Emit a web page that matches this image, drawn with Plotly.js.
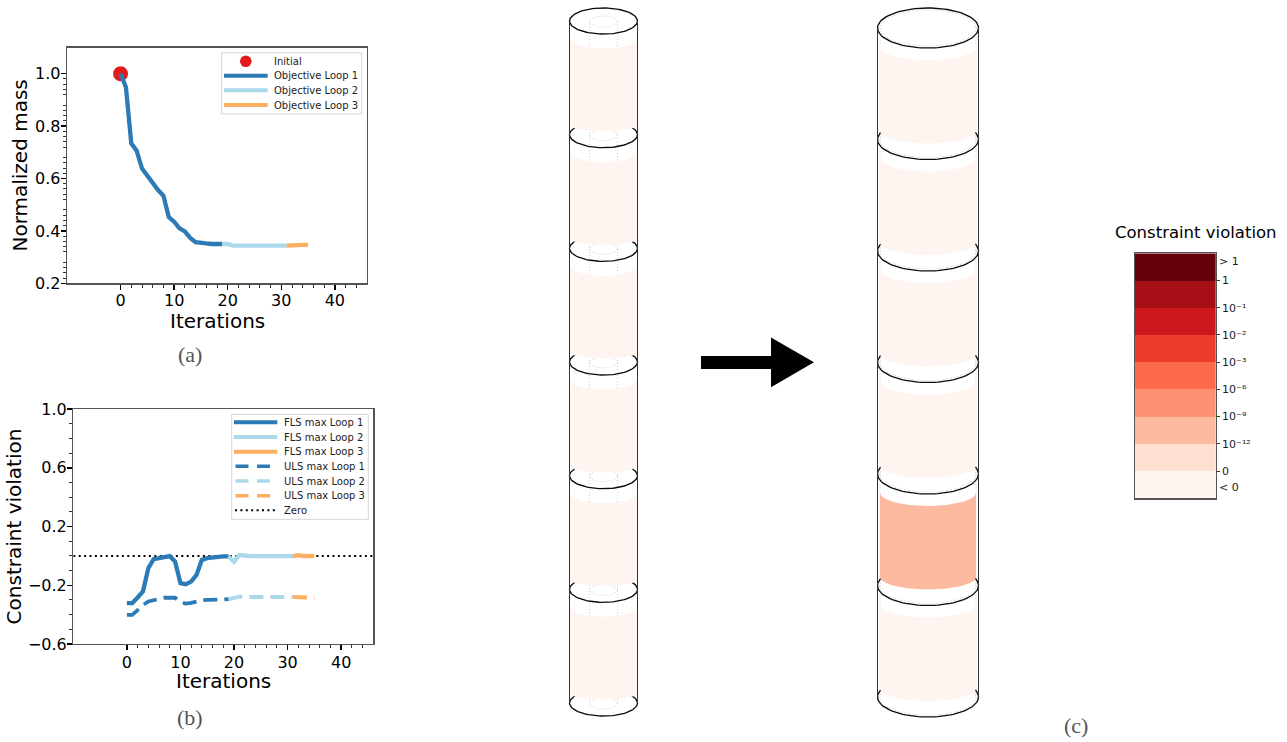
<!DOCTYPE html>
<html><head><meta charset="utf-8">
<script src="https://cdn.plot.ly/plotly-3.0.1.min.js"></script>
<style>html,body{margin:0;padding:0;background:#fff}#c{width:1287px;height:742px}</style>
</head><body><div id="c"></div><script>
// ---- panel (a) ----
var massLoop1X = [0,1,2,3,4,5,6,7,8,9,10,11,12,13,14,15,16,17,18,19];
var massLoop1Y = [1.0,0.948,0.734,0.706,0.638,0.61,0.58,0.556,0.534,0.453,0.435,0.41,0.398,0.373,0.357,0.353,0.352,0.35,0.35,0.35];
var massLoop2X = [19,20,21,22,23,24,25,26,27,28,29,30,31];
var massLoop2Y = [0.35,0.35,0.344,0.344,0.344,0.344,0.344,0.344,0.344,0.344,0.344,0.344,0.344];
var massLoop3X = [31,32,33,34,35];
var massLoop3Y = [0.344,0.346,0.347,0.347,0.347];
// ---- panel (b) ----
var flsLoop1X = [0,1,2,3,4,5,6,7,8,9,10,11,12,13,14,15,16,17,18,19];
var flsLoop1Y = [-0.322,-0.322,-0.283,-0.243,-0.084,-0.023,-0.016,-0.01,-0.002,-0.039,-0.186,-0.193,-0.175,-0.13,-0.027,-0.016,-0.01,-0.005,-0.004,-0.004];
var flsLoop2X = [19,20,21,22,23,24,25,26,27,28,29,30,31];
var flsLoop2Y = [-0.004,-0.04,0.006,-0.001,-0.002,-0.002,-0.002,-0.002,-0.002,-0.002,-0.002,-0.002,-0.002];
var flsLoop3X = [31,32,33,34,35];
var flsLoop3Y = [-0.002,0.005,-0.001,-0.002,-0.002];
var ulsLoop1X = [0,1,2,3,4,5,6,7,8,9,10,11,12,13,14,15,16,17,18,19];
var ulsLoop1Y = [-0.402,-0.402,-0.37,-0.335,-0.31,-0.3,-0.29,-0.285,-0.285,-0.285,-0.315,-0.325,-0.32,-0.31,-0.302,-0.3,-0.3,-0.298,-0.296,-0.295];
var ulsLoop2X = [19,20,21,22,23,24,25,26,27,28,29,30,31];
var ulsLoop2Y = [-0.295,-0.285,-0.278,-0.28,-0.28,-0.28,-0.28,-0.28,-0.28,-0.28,-0.28,-0.28,-0.28];
var ulsLoop3X = [31,32,33,34,35];
var ulsLoop3Y = [-0.28,-0.28,-0.282,-0.284,-0.285];
var zeroX = [-10,46];
var zeroY = [0,0];
var iterTicks = [0,10,20,30,40];
var iterMinor = [2,4,6,8,12,14,16,18,22,24,26,28,32,34,36,38,42,44];
var massMinor = [0.22,0.24,0.26,0.28,0.32,0.34,0.36,0.38,0.42,0.44,0.46,0.48,0.52,0.54,0.56,0.58,0.62,0.64,0.66,0.68,0.72,0.74,0.76,0.78,0.82,0.84,0.86,0.88,0.92,0.94,0.96,0.98];
var violMinor = [-0.5,-0.4,-0.3,-0.1,0,0.1,0.3,0.4,0.5,0.7,0.8,0.9];
// ---- panel (c) ----
var reds = ['#fff5f0','#fee0d2','#fcbba1','#fc9272','#fb6a4a','#ef3b2c','#cb181d','#a50f15','#67000d'];
var leftSegments  = [0,0,0,0,0,0];
var rightSegments = [0,0,0,0,2,0];
var scaleLevels = [[0],[1],[2],[3],[4],[5],[6],[7],[8]];
var scaleCenters = [0.5,1.5,2.5,3.5,4.5,5.5,6.5,7.5,8.5];
var scaleTicks = [1,2,3,4,5,6,7,8];
var scaleLabels = ['0','10\u207B\u00B9\u00B2','10\u207B\u2079','10\u207B\u2076','10\u207B\u00B3','10\u207B\u00B2','10\u207B\u00B9','1'];
var cBlue='#2c7bb6', cLight='#abd9e9', cOrange='#fdae61';

function line(x,y,color,name,xa,ya,dash){
  return {type:'scatter',mode:'lines',x:x,y:y,name:name,xaxis:xa,yaxis:ya,hoverinfo:'skip',showlegend:false,
    line:{color:color,width:dash?3.8:4.3,dash:dash||'solid',shape:'linear'}};
}
var traces = [
  line(massLoop1X,massLoop1Y,cBlue,'Objective Loop 1','x','y'),
  line(massLoop2X,massLoop2Y,cLight,'Objective Loop 2','x','y'),
  line(massLoop3X,massLoop3Y,cOrange,'Objective Loop 3','x','y')
];
traces.unshift({type:'scatter',mode:'markers',x:[0],y:[1],name:'Initial',xaxis:'x',yaxis:'y',showlegend:false,hoverinfo:'skip',
  marker:{color:'#e31a1c',size:15}});
var z0 = line(zeroX,zeroY,'#000','Zero','x2','y2','2px,3.4px'); z0.line.width=2;
traces.push(z0,
  line(flsLoop1X,flsLoop1Y,cBlue,'FLS max Loop 1','x2','y2'),
  line(flsLoop2X,flsLoop2Y,cLight,'FLS max Loop 2','x2','y2'),
  line(flsLoop3X,flsLoop3Y,cOrange,'FLS max Loop 3','x2','y2'),
  line(ulsLoop1X,ulsLoop1Y,cBlue,'ULS max Loop 1','x2','y2','14px,7px'),
  line(ulsLoop2X,ulsLoop2Y,cLight,'ULS max Loop 2','x2','y2','14px,7px'),
  line(ulsLoop3X,ulsLoop3Y,cOrange,'ULS max Loop 3','x2','y2','14px,7px')
);

// cylinder drawing on a page-sized axis pair (x3/y3)
function arc(cx,cy,rx,ry,a0,a1,n){
  var xs=[],ys=[];
  for(var i=0;i<=n;i++){var t=a0+(a1-a0)*i/n;xs.push(cx+rx*Math.cos(t));ys.push(cy+ry*Math.sin(t));}
  return [xs,ys];
}
function path(x,y,color,width,dash){
  return {type:'scatter',mode:'lines',x:x,y:y,xaxis:'x3',yaxis:'y3',hoverinfo:'skip',showlegend:false,
    line:{color:color,width:width,dash:dash||'solid'}};
}
function cylinder(g,segs){
  var n=segs.length,i,a,out=[];
  var joints=[]; for(i=0;i<=n;i++) joints.push(g.y0+g.step*i);
  // dotted inner wall
  [-g.inRx,g.inRx].forEach(function(dx){
    out.push(path([g.cx+dx,g.cx+dx],[joints[0],joints[n]],'#d2d2d2',1,'1px,2px'));
  });
  joints.forEach(function(y,k){
    a=arc(g.cx,y+g.inDy,g.inRx,g.inRy,0,2*Math.PI,72);
    out.push(path(a[0],a[1],'#cfcfcf',1,'1px,2px'));
    a=arc(g.cx,y,g.rx,g.ry,0,2*Math.PI,96);
    out.push(path(a[0],a[1],'#0a0a0a',1.35));
  });
  // coloured wall segments cover whatever sits behind them
  segs.forEach(function(level,k){
    var top=arc(g.cx,joints[k]+g.topOff,g.fillRx,g.topRy,Math.PI,0,48);
    var bot=arc(g.cx,joints[k+1]-g.botOff,g.fillRx,g.botRy,0,Math.PI,48);
    out.push({type:'scatter',mode:'lines',x:top[0].concat(bot[0]).concat([top[0][0]]),y:top[1].concat(bot[1]).concat([top[1][0]]),
      xaxis:'x3',yaxis:'y3',hoverinfo:'skip',showlegend:false,fill:'toself',fillcolor:reds[level],line:{width:0,color:reds[level]}});
  });
  [-g.rx,g.rx].forEach(function(dx){
    out.push(path([g.cx+dx,g.cx+dx],[joints[0],joints[n]],'#333',1));
  });
  return out;
}
traces = traces.concat(cylinder({cx:603.5,y0:21,step:113.67,rx:34,ry:13,inRx:14,inRy:5.5,inDy:0.5,fillRx:33.5,topOff:17,topRy:10.5,botOff:9.5,botRy:6},leftSegments));
traces = traces.concat(cylinder({cx:928,y0:28,step:111.5,rx:50.5,ry:20,inRx:48,inRy:18,inDy:0,fillRx:48,topOff:18.5,topRy:13.5,botOff:8.5,botRy:12.5},rightSegments));
// arrow
traces.push({type:'scatter',mode:'lines',xaxis:'x3',yaxis:'y3',hoverinfo:'skip',showlegend:false,fill:'toself',fillcolor:'#000',line:{width:0,color:'#000'},
  x:[701,771,771,814,771,771,701,701],y:[356,356,337.5,362.3,387.3,369,369,356]});
// colour scale
traces.push({type:'heatmap',x:[0],y:scaleCenters,z:scaleLevels,xaxis:'x4',yaxis:'y4',zmin:0,zmax:8,showscale:false,hoverinfo:'skip',
  colorscale:reds.map(function(c,i){return [i/8,c];})});

var W=1287,H=742;
function xd(a,b){return [a/W,b/W];}
function yd(top,bot){return [1-bot/H,1-top/H];}
var font='DejaVu Sans';
function baseX(dom,anchor,off){return {domain:dom,anchor:anchor,range:[-10,46],tickmode:'array',tickvals:iterTicks,
  ticks:'outside',ticklen:5,tickwidth:1.5,tickcolor:'#000',tickfont:{family:font,size:16,color:'#000'},ticklabelstandoff:off,
  showgrid:false,zeroline:false,showline:true,mirror:true,linecolor:'#555',linewidth:1.3,
  minor:{tickmode:'array',tickvals:iterMinor,ticks:'outside',ticklen:3,tickwidth:1,tickcolor:'#333',showgrid:false}};}
function baseY(dom,anchor,range,tick0,dtick,minorV,title,standoff){return {domain:dom,anchor:anchor,range:range,tick0:tick0,dtick:dtick,tickformat:'.1f',
  ticks:'outside',ticklen:5,tickwidth:1.5,tickcolor:'#000',tickfont:{family:font,size:16,color:'#000'},ticklabelstandoff:-3,
  showgrid:false,zeroline:false,showline:true,mirror:true,linecolor:'#555',linewidth:1.3,
  title:{text:title,font:{family:font,size:20,color:'#000'},standoff:standoff},
  minor:{tickmode:'array',tickvals:minorV,ticks:'outside',ticklen:3,tickwidth:1,tickcolor:'#333',showgrid:false}};}

var shapes=[],ann=[];
function box(x0,y0,x1,y1){shapes.push({type:'rect',xref:'x3',yref:'y3',x0:x0,y0:y0,x1:x1,y1:y1,line:{color:'#d5d5d5',width:1},fillcolor:'rgba(255,255,255,0.8)',layer:'above'});}
function sw(x0,x1,y,color,w,dash){shapes.push({type:'line',xref:'x3',yref:'y3',x0:x0,x1:x1,y0:y,y1:y,line:{color:color,width:w,dash:dash||'solid'},layer:'above'});}
function label(x,y,t,size,anchor,color,fam){ann.push({xref:'x3',yref:'y3',x:x,y:y,text:t,showarrow:false,xanchor:anchor||'left',yanchor:'middle',
  font:{family:fam||font,size:size,color:color||'#222'},borderpad:0,borderwidth:0});}
// legend (a)
box(221.7,52.7,361.7,114);
shapes.push({type:'circle',xref:'x3',yref:'y3',x0:240,x1:251.6,y0:55.5,y1:67.1,fillcolor:'#e31a1c',line:{width:0},layer:'above'});
sw(224,267.7,75.7,cBlue,4); sw(224,267.7,90.3,cLight,4); sw(224,267.7,105,cOrange,4);
label(273.7,61.3,'Initial',10); label(273.7,75.7,'Objective Loop 1',10); label(273.7,90.3,'Objective Loop 2',10); label(273.7,105,'Objective Loop 3',10);
// legend (b)
box(231.7,414.3,368.3,519.3);
sw(234,277.3,422.3,cBlue,4); sw(234,277.3,437,cLight,4); sw(234,277.3,451.7,cOrange,4);
sw(235.5,272,466.3,cBlue,3.6,'13px,8.5px'); sw(235.5,272,481,cLight,3.6,'13px,8.5px'); sw(235.5,272,495.7,cOrange,3.6,'13px,8.5px');
sw(235,276,510.3,'#000',2,'2px,3.4px');
['FLS max Loop 1','FLS max Loop 2','FLS max Loop 3','ULS max Loop 1','ULS max Loop 2','ULS max Loop 3','Zero'].forEach(function(t,i){
  label(283.7,[422.3,437,451.7,466.3,481,495.7,510.3][i],t,10);
});
// x-axis titles
label(217,321,'Iterations',20,'center','#000');
label(223.3,681,'Iterations',20,'center','#000');
// captions
var serif='Liberation Serif';
label(189.5,354,'(a)',22,'center','#555',serif);
label(189.5,717,'(b)',22,'center','#555',serif);
label(1076,725,'(c)',22,'center','#555',serif);
// colour scale labels
label(1195.5,232,'Constraint violation',16.5,'center','#000');
label(1218.5,261.5,'> 1',11,'left','#222');
label(1218.5,487.5,'< 0',11,'left','#222');

var layout={width:W,height:H,margin:{l:0,r:0,t:0,b:0},paper_bgcolor:'#fff',plot_bgcolor:'rgba(0,0,0,0)',showlegend:false,
  font:{family:font},shapes:shapes,annotations:ann,
  xaxis:baseX(xd(67,367),'y',-3),
  yaxis:baseY(yd(47.5,283.3),'x',[0.2,1.1],0.2,0.2,massMinor,'Normalized mass',2),
  xaxis2:baseX(xd(73.3,373.3),'y2',-2),
  yaxis2:baseY(yd(409,644),'x2',[-0.6,1.0],-0.6,0.4,violMinor,'Constraint violation',1),
  xaxis3:{domain:[0,1],range:[0,W],anchor:'y3',visible:false,fixedrange:true},
  yaxis3:{domain:[0,1],range:[H,0],anchor:'x3',visible:false,fixedrange:true},
  xaxis4:{domain:xd(1135,1215.7),range:[-0.5,0.5],anchor:'y4',showticklabels:false,ticks:'',showgrid:false,zeroline:false,showline:true,mirror:true,linecolor:'#555',linewidth:1.2},
  yaxis4:{domain:yd(253.3,498.3),range:[0,9],anchor:'x4',side:'right',tickmode:'array',tickvals:scaleTicks,ticktext:scaleLabels,
    ticks:'outside',ticklen:3,tickwidth:1,tickcolor:'#333',tickfont:{family:font,size:11,color:'#222'},showgrid:false,zeroline:false,showline:true,mirror:true,linecolor:'#555',linewidth:1.2}
};
Plotly.newPlot('c',traces,layout,{displayModeBar:false,staticPlot:true});
</script></body></html>
